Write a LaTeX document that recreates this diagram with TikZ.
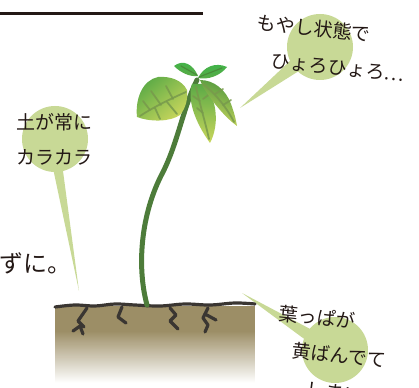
\documentclass[tikz,border=0pt]{standalone}
\usepackage{fontspec}
\newfontfamily\jp{Noto Sans CJK JP}
\definecolor{ink}{HTML}{231815}
\definecolor{bubble}{HTML}{C8D996}
\definecolor{soil}{HTML}{9C8E66}
\definecolor{crack}{HTML}{3A3632}
\definecolor{stemgreen}{HTML}{4D7C3A}
\definecolor{leafyellow}{HTML}{C9D65C}
\definecolor{leafgreen}{HTML}{5BAA46}
\definecolor{leafbright}{HTML}{3DB54A}
\definecolor{vein}{HTML}{789A4C}
\tikzset{
  bubblecircle/.style={circle, fill=bubble, draw=none, minimum size=66pt, inner sep=0pt},
  tail/.style={fill=bubble},
  say/.style={font=\jp\fontsize{19}{19}\selectfont, text=ink, inner sep=0pt, anchor=west},
  crackline/.style={draw=crack, line width=3.2pt, line cap=round, line join=round},
  stemline/.style={draw=stemgreen, line width=5pt, line cap=round},
  veinline/.style={draw=vein, line width=1.8pt, line cap=round, opacity=0.85},
}
\begin{document}
\begin{tikzpicture}[x=1pt, y=-1pt]
\useasboundingbox (0,0) rectangle (419,387);
\clip (0,0) rectangle (419,387);

% heading rule
\draw[ink, line width=3pt] (0,14) -- (203,14);

% large text fragment
\node[font=\jp\fontsize{24}{24}\selectfont, text=ink, inner sep=0pt, anchor=west] (tail text) at (-1,263) {ずに。};

% speech bubbles
\node[bubblecircle] (b1) at (320,47) {};
\node[bubblecircle] (b2) at (55,139) {};
\node[bubblecircle] (b3) at (335,350) {};
\coordinate (t1) at (240,108);
\coordinate (t2) at (79,291);
\coordinate (t3) at (242,293);
\fill[tail] (b1.center) -- (b1.205) -- (t1) -- (b1.228) -- cycle;
\fill[tail] (b2.center) -- (b2.268) -- (t2) -- (b2.284) -- cycle;
\fill[tail] (b3.center) -- (b3.140) -- (t3) -- (b3.160) -- cycle;

% soil block: solid band, then thin strips fading to white
\fill[soil] (55,306) rectangle (255,331);
\foreach \i in {0,...,52} {
  \pgfmathtruncatemacro{\pct}{100-\i*100/52}
  \fill[soil!\pct!white] (55,330.6+\i) rectangle (255,331.6+\i);
}
\draw[crackline] plot[smooth, tension=0.6] coordinates {(55,307) (75,305) (95,306) (115,304) (135,305) (160,306) (185,304) (210,305) (235,303) (255,304)};
\draw[crackline] (87,308) -- (78,321) -- (84,327);
\draw[crackline] (73,331) -- (80,326) -- (83,334);
\draw[crackline] (122,307) -- (118,317) -- (126,323);
\draw[crackline] (170,308) -- (176,315) -- (170,321) -- (178,329);
\draw[crackline] (208,308) -- (203,318) -- (208,325) -- (205,332);
\draw[crackline] (205,314) -- (216,320);

% stem
\draw[stemline] (147,305) .. controls (137,268) and (140,215) .. (163,172) .. controls (178,142) and (183,108) .. (197,80);

% large left leaf
\shade[top color=leafgreen, bottom color=leafyellow, shading angle=40]
  (187,90) .. controls (182,80) and (170,76) .. (158,77) .. controls (143,80) and (135,98) .. (137,117)
  .. controls (150,122) and (170,122) .. (180,115) .. controls (186,108) and (188,98) .. (187,90) -- cycle;
\draw[veinline] (186,92) .. controls (170,99) and (152,108) .. (140,116);
\draw[veinline] (173,99) -- (166,86);
\draw[veinline] (161,105) -- (151,91);
\draw[veinline] (150,110) -- (143,101);
\draw[veinline] (167,102) -- (177,114);
\draw[veinline] (155,108) -- (160,119);

% hanging right leaves
\shade[top color=leafgreen, bottom color=leafyellow]
  (192,84) .. controls (187,100) and (195,122) .. (210,143)
  .. controls (219,126) and (218,100) .. (204,84) -- cycle;
\draw[veinline] (196,87) .. controls (200,105) and (206,125) .. (209,139);
\draw[veinline] (200,101) -- (193,96);
\draw[veinline] (203,113) -- (197,108);
\draw[veinline] (203,99) -- (211,93);

\shade[top color=leafgreen!90!black, bottom color=leafyellow, shading angle=-20]
  (200,80) .. controls (214,80) and (226,90) .. (231,104) .. controls (234,112) and (236,120) .. (237,126)
  .. controls (226,118) and (213,103) .. (203,87) -- cycle;
\draw[veinline] (203,84) .. controls (215,93) and (227,108) .. (234,122);
\draw[veinline] (215,94) -- (223,89);
\draw[veinline] (223,105) -- (231,100);

% top leaves
\shade[top color=leafbright, bottom color=leafgreen]
  (198,76) .. controls (193,64) and (183,59) .. (174,66) .. controls (181,73) and (190,77) .. (198,76) -- cycle;
\shade[top color=leafbright, bottom color=leafgreen]
  (198,78) .. controls (204,66) and (216,62) .. (227,67) .. controls (220,76) and (208,80) .. (198,78) -- cycle;
\draw[veinline, draw=leafgreen!80!black, line width=1.2pt] (197,75) -- (181,66);
\draw[veinline, draw=leafgreen!80!black, line width=1.2pt] (199,77) -- (222,68);

% bubble texts
\node[say, rotate=-6] (l1a) at (257,22) {もやし状態で};
\node[say, rotate=-6] (l1b) at (271,61) {ひょろひょろ…};
\node[say] (l2a) at (16,122) {土が常に};
\node[say] (l2b) at (16,157) {カラカラ};
\node[say, rotate=-6] (l3a) at (279,313) {葉っぱが};
\node[say, rotate=-6] (l3b) at (292,350) {黄ばんでて};
\node[say, rotate=-6] (l3c) at (306,389) {しまい};
\end{tikzpicture}
\end{document}
